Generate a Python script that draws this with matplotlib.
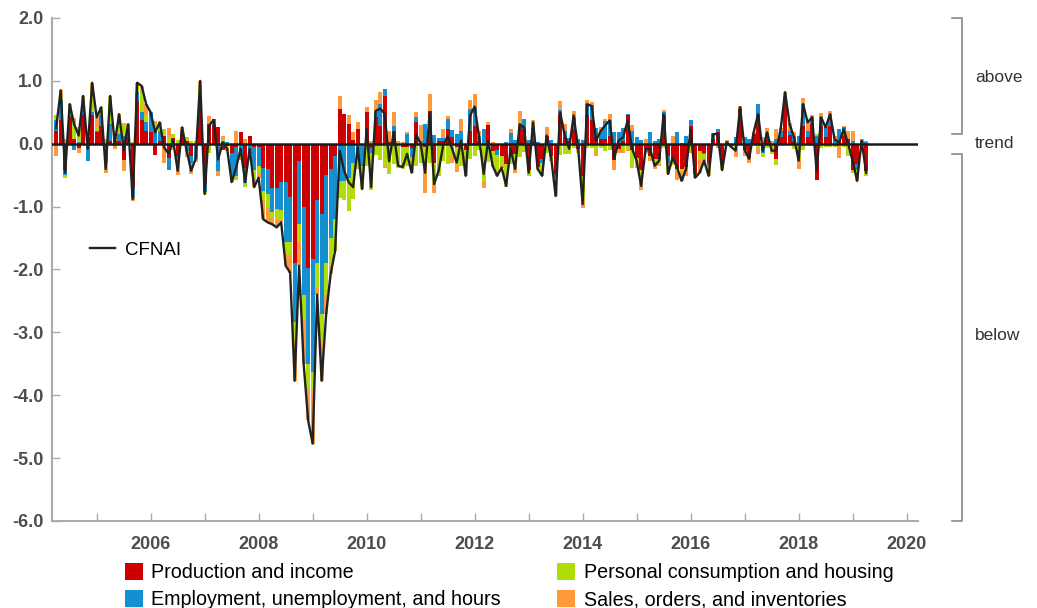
import numpy as np
import matplotlib
matplotlib.use("Agg")
import matplotlib.pyplot as plt

plt.rcParams["font.family"] = ["Liberation Sans", "DejaVu Sans"]

# monthly contributions to the CFNAI, starting April 2004
start_year, start_month = 2004, 4

production = [
    0.20, 0.38, -0.42, 0.42, 0.07, -0.06, 0.45, 0.10, 0.45,                  # 2004
    0.18, 0.29, -0.05, 0.05, 0.05, 0.05, -0.26, 0.10, -0.68, 0.68, 0.37, 0.20,  # 2005
    0.18, -0.18, 0.05, 0.13, -0.23, 0.09, -0.20, 0.15, 0.05, -0.20, 0.00, 0.60,  # 2006
    -0.62, 0.31, 0.30, 0.26, -0.10, -0.04, -0.15, -0.05, 0.18, -0.38, 0.13, -0.05,  # 2007
    -0.05, -0.39, -0.40, -0.70, -0.70, -0.61, -0.61, -0.85, -1.89, -0.27, -1.00, -1.97,  # 2008
    -1.83, -0.90, -1.12, -0.50, -0.40, -0.20, 0.55, 0.47, 0.31, 0.06, 0.23, 0.00,  # 2009
    0.50, -0.07, 0.42, 0.29, 0.76, 0.02, 0.21, -0.02, -0.05, -0.05, -0.06, 0.34,  # 2010
    0.00, -0.05, 0.52, -0.30, 0.05, 0.04, 0.23, 0.10, -0.05, -0.05, -0.10, 0.20,  # 2011
    0.29, 0.05, -0.01, 0.30, -0.12, -0.10, -0.20, -0.32, -0.18, -0.16, 0.26, 0.23,  # 2012
    -0.42, 0.05, -0.37, -0.25, 0.13, -0.20, -0.48, 0.47, 0.10, 0.05, 0.23, -0.08,  # 2013
    -0.52, 0.45, 0.37, 0.10, 0.08, 0.07, 0.13, -0.26, -0.08, 0.05, 0.45, -0.10,  # 2014
    -0.22, -0.42, -0.08, -0.20, -0.25, -0.25, 0.46, -0.20, -0.25, -0.40, -0.40, -0.37,  # 2015
    0.29, -0.48, -0.12, -0.15, -0.30, 0.07, 0.18, -0.32, -0.02, -0.03, 0.00, 0.55,  # 2016
    -0.10, -0.23, 0.15, 0.45, 0.00, 0.07, 0.00, -0.24, 0.10, 0.70, 0.14, 0.05,  # 2017
    0.00, 0.29, 0.10, 0.31, -0.58, 0.29, 0.11, 0.29, 0.00, 0.04, 0.13, 0.07,  # 2018
    -0.42, -0.32, 0.00, -0.44,                                                # 2019
]
employment = [
    0.18, 0.32, -0.08, 0.03, -0.10, 0.02, 0.18, -0.27, 0.05,
    0.03, 0.16, -0.25, 0.26, -0.04, 0.10, 0.13, 0.05, -0.18, 0.15, 0.13, 0.15,
    0.32, 0.20, 0.15, 0.00, -0.18, -0.05, -0.05, 0.05, -0.12, -0.10, -0.24, 0.15,
    -0.15, 0.00, 0.10, -0.43, 0.05, 0.03, -0.38, -0.47, -0.20, -0.24, -0.16, -0.37,
    -0.30, -0.36, -0.40, -0.38, -0.34, -0.45, -0.96, -0.72, -0.95, -1.00, -1.40, -1.53,
    -1.80, -1.00, -1.59, -1.40, -1.10, -1.00, -0.60, -0.60, -0.55, -0.30, -0.20, -0.36,
    0.01, -0.07, 0.08, 0.34, 0.11, 0.00, 0.08, 0.00, 0.00, 0.15, -0.15, 0.08,
    0.05, 0.32, 0.00, 0.14, 0.04, 0.05, 0.16, 0.12, 0.15, 0.20, 0.00, 0.35,
    0.30, 0.08, 0.23, -0.03, 0.00, -0.08, 0.00, 0.02, 0.17, 0.06, 0.00, 0.16,
    0.06, 0.20, 0.02, -0.05, -0.04, 0.06, -0.05, 0.06, 0.10, 0.04, 0.20, 0.08,
    0.06, 0.18, 0.24, 0.15, 0.12, 0.29, 0.24, 0.18, 0.19, 0.20, 0.03, 0.20,
    0.11, 0.06, -0.05, 0.19, 0.05, 0.08, 0.04, -0.10, 0.00, 0.19, 0.01, 0.12,
    0.08, 0.00, 0.00, -0.02, -0.06, 0.10, 0.05, 0.00, 0.04, 0.00, 0.10, 0.00,
    0.10, 0.07, 0.00, 0.18, -0.15, 0.10, 0.00, 0.07, 0.10, 0.05, 0.07, 0.08,
    0.13, 0.34, 0.10, 0.12, 0.13, 0.13, 0.15, 0.16, 0.06, 0.20, 0.13, 0.00,
    0.04, -0.10, 0.04, 0.03,
]
consumption = [
    0.07, 0.05, -0.04, 0.18, 0.26, 0.25, 0.10, 0.05, 0.35,
    0.05, 0.14, 0.07, 0.42, 0.05, 0.30, 0.20, 0.10, 0.03, 0.11, 0.32, 0.10,
    0.00, 0.12, 0.10, 0.11, 0.10, 0.06, 0.06, 0.00, 0.05, 0.05, 0.05, 0.15,
    -0.02, -0.15, -0.02, 0.00, 0.02, -0.05, 0.00, -0.06, -0.03, -0.06, -0.03, -0.15,
    -0.12, -0.15, -0.20, -0.08, -0.18, -0.15, -0.18, -0.20, -0.32, -0.30, -0.40, -0.40,
    -0.29, -0.40, -0.45, -0.50, -0.45, -0.45, -0.27, -0.30, -0.52, -0.58, -0.20, -0.35,
    -0.36, -0.60, -0.18, -0.26, -0.35, -0.48, -0.32, -0.37, -0.35, -0.30, -0.25, -0.35,
    -0.30, -0.25, -0.30, -0.33, -0.50, -0.27, -0.32, -0.20, -0.30, -0.30, -0.20, -0.25,
    -0.20, -0.10, -0.60, -0.26, -0.25, -0.28, -0.15, -0.34, -0.14, -0.22, -0.21, -0.10,
    -0.10, -0.03, -0.05, -0.15, -0.10, -0.06, -0.23, -0.18, -0.17, -0.17, -0.07, -0.06,
    -0.35, -0.06, -0.06, -0.12, -0.06, -0.11, -0.10, 0.00, 0.00, -0.10, -0.10, -0.28,
    -0.06, -0.20, -0.03, -0.02, -0.10, -0.08, -0.06, -0.15, -0.09, -0.04, -0.05, 0.00,
    -0.12, -0.06, -0.14, -0.08, -0.10, -0.02, 0.00, -0.10, -0.02, 0.00, -0.06, -0.02,
    0.00, 0.00, 0.00, -0.06, -0.06, -0.07, -0.16, -0.10, -0.02, 0.00, -0.02, -0.08,
    -0.25, -0.10, 0.00, -0.04, 0.02, -0.07, -0.05, -0.05, -0.05, -0.02, -0.05, -0.20,
    -0.05, -0.05, -0.03, -0.07,
]
sales = [
    -0.20, 0.10, 0.08, 0.00, 0.08, -0.08, 0.03, 0.04, 0.12,
    0.16, -0.01, -0.17, 0.03, -0.05, 0.02, -0.17, 0.06, -0.05, 0.03, 0.10, 0.18,
    0.00, 0.04, 0.04, -0.30, 0.15, -0.05, -0.24, 0.06, -0.09, -0.18, -0.05, 0.10,
    -0.01, 0.13, 0.00, -0.08, 0.05, -0.02, -0.08, 0.20, -0.03, 0.07, -0.02, -0.12,
    -0.07, -0.30, -0.25, -0.12, -0.11, -0.04, -0.19, -0.28, -0.61, -0.37, -0.70, -0.50,
    -0.85, -0.10, -0.61, -0.31, -0.12, -0.05, 0.21, 0.00, 0.15, 0.13, 0.12, -0.01,
    0.08, 0.05, 0.20, 0.19, -0.04, 0.18, 0.21, 0.04, 0.03, 0.04, 0.00, 0.08,
    0.25, -0.48, 0.27, -0.15, -0.02, 0.15, 0.05, -0.10, -0.10, 0.20, -0.21, 0.15,
    0.20, 0.07, -0.10, 0.04, 0.02, -0.05, -0.03, -0.03, 0.07, -0.08, 0.26, -0.03,
    0.00, 0.12, 0.00, -0.06, 0.14, -0.02, -0.07, 0.15, 0.11, 0.00, 0.09, 0.00,
    -0.15, 0.06, 0.05, -0.08, 0.06, 0.04, 0.10, -0.16, -0.06, -0.05, -0.01, 0.10,
    -0.10, -0.11, 0.08, -0.05, -0.05, -0.02, 0.03, -0.03, 0.12, -0.13, -0.15, -0.15,
    -0.02, 0.00, -0.20, -0.02, -0.05, 0.00, -0.07, 0.00, 0.02, -0.02, -0.15, 0.05,
    -0.10, -0.08, 0.03, -0.10, 0.10, 0.08, 0.05, 0.16, 0.05, 0.07, 0.12, 0.05,
    -0.15, 0.10, 0.14, 0.03, 0.00, 0.07, 0.05, 0.07, 0.06, -0.20, 0.02, 0.13,
    0.16, -0.12, 0.04, 0.02,
]

labels = [
    "Production and income",
    "Employment, unemployment, and hours",
    "Personal consumption and housing",
    "Sales, orders, and inventories",
]
colors = ["#cc0000", "#1490d0", "#b0dc0a", "#ff9a3c"]

series = np.array([production, employment, consumption, sales])
n = series.shape[1]
dates = start_year + (start_month - 1 + np.arange(n)) / 12
cfnai = series.sum(axis=0)

fig = plt.figure(figsize=(10.37, 6.08), dpi=100)
ax = fig.add_axes([0.0501, 0.1431, 0.8351, 0.8273])

# diverging stack: positive parts pile up, negative parts pile down
pos_base = np.zeros(n)
neg_base = np.zeros(n)
handles = []
for vals, color, label in zip(series, colors, labels):
    pos = np.where(vals > 0, vals, 0)
    neg = np.where(vals < 0, vals, 0)
    h = ax.bar(dates, pos, bottom=pos_base, width=0.075, color=color,
               linewidth=0, label=label, zorder=2)
    ax.bar(dates, neg, bottom=neg_base, width=0.075, color=color,
           linewidth=0, zorder=2)
    pos_base += pos
    neg_base += neg
    handles.append(h)

ax.axhline(0, color="#1a1a1a", lw=1.8, zorder=3)
line, = ax.plot(dates, cfnai, color="#222222", lw=1.7, zorder=4, label="CFNAI")

ax.set_xlim(2004.172, 2020.21)
ax.set_ylim(-6, 2)

for side in ["top", "right"]:
    ax.spines[side].set_visible(False)
for side in ["left", "bottom"]:
    ax.spines[side].set_color("#aaaaaa")
    ax.spines[side].set_linewidth(1.5)

yticks = np.arange(-6, 3)
ax.set_yticks(yticks)
ax.set_yticklabels([f"{v:.1f}" for v in yticks])
years = np.arange(2005, 2021)
ax.set_xticks(years)
ax.set_xticklabels([str(y) if y % 2 == 0 else "" for y in years])

ax.tick_params(axis="both", direction="in", length=6, width=1, color="#aaaaaa",
               labelsize=13, labelcolor="#4d4d4d")
ax.tick_params(axis="y", pad=6)
ax.tick_params(axis="x", pad=11)
for lab in ax.get_xticklabels() + ax.get_yticklabels():
    lab.set_fontweight("bold")

ax.legend(handles=[line], loc="center left", bbox_to_anchor=(0.0439, 0.5388),
          frameon=False, fontsize=13.5, handlelength=1.35, handletextpad=0.5,
          borderpad=0, borderaxespad=0)

# brackets on the right
tr = ax.get_yaxis_transform()
x0, x1 = 1.0393, 1.0508
ax.plot([x0, x1, x1, x0], [2.0, 2.0, 0.16, 0.16], color="#888888", lw=1.2,
        transform=tr, clip_on=False)
ax.plot([x0, x1, x1, x0], [-0.16, -0.16, -6.0, -6.0], color="#888888", lw=1.2,
        transform=tr, clip_on=False)
for txt, yv in [("above", 1.05), ("trend", 0.0), ("below", -3.05)]:
    ax.text(1.0658, yv, txt, transform=tr, fontsize=12.5, color="#333333",
            va="center", ha="left")

fig.legend(handles=handles, labels=labels, ncol=2, loc="upper left",
           bbox_to_anchor=(0.1205, 0.0742), frameon=False, fontsize=14.2,
           handlelength=0.92, handleheight=0.92, handletextpad=0.42,
           columnspacing=2.85, labelspacing=0.42, borderpad=0, borderaxespad=0)

fig.savefig("out.png", dpi=100)
